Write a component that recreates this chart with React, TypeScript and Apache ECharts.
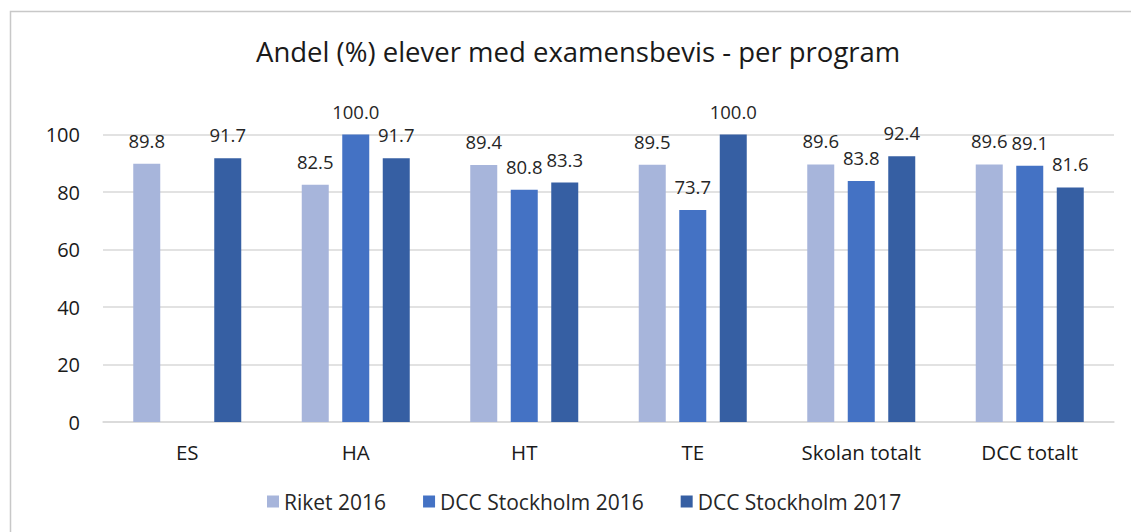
import React, { useEffect, useRef } from "react";
import * as echarts from "echarts";

const categories = ["ES", "HA", "HT", "TE", "Skolan totalt", "DCC totalt"];
const riket2016 = [89.8, 82.5, 89.4, 89.5, 89.6, 89.6];
const dcc2016: (number | null)[] = [null, 100.0, 80.8, 73.7, 83.8, 89.1];
const dcc2017 = [91.7, 91.7, 83.3, 100.0, 92.4, 81.6];
const seriesNames = ["Riket 2016", "DCC Stockholm 2016", "DCC Stockholm 2017"];
const colors = ["#A7B5DB", "#4472C4", "#365FA3"];
const yTicks = { min: 0, max: 100, interval: 20 };
const titleText = "Andel (%) elever med examensbevis - per program";

const FONT = "'Open Sans', sans-serif";

export default function App() {
  const ref = useRef<HTMLDivElement>(null);
  useEffect(() => {
    if (!ref.current) return;
    const chart = echarts.init(ref.current, undefined, { renderer: "svg" });
    const mk = (name: string, data: (number | null)[], color: string) => ({
      name,
      type: "bar",
      data,
      barWidth: 27,
      barGap: "50%",
      itemStyle: { color },
      label: {
        show: true,
        position: "top",
        distance: 14,
        fontFamily: FONT,
        fontSize: 18.5,
        color: "#262626",
        formatter: (p: any) => (p.value == null ? "" : Number(p.value).toFixed(1)),
      },
    });
    chart.setOption({
      animation: false,
      backgroundColor: "#ffffff",
      textStyle: { fontFamily: FONT },
      title: {
        text: titleText,
        left: 251,
        top: 32,
        textStyle: { fontFamily: FONT, fontSize: 27.5, fontWeight: "normal", color: "#1a1a1a" },
      },
      graphic: [
        {
          type: "rect",
          shape: { x: 10.5, y: 11.5, width: 1140, height: 540 },
          style: { fill: "none", stroke: "#c8c8c8", lineWidth: 1.5 },
          silent: true,
        },
      ],
      legend: {
        bottom: 15,
        left: 262,
        itemWidth: 12,
        itemHeight: 12,
        itemGap: 37,
        icon: "rect",
        textStyle: { fontFamily: FONT, fontSize: 21, color: "#262626" },
        data: seriesNames,
      },
      grid: { left: 103, right: 17, top: 134.5, bottom: 110, containLabel: false },
      xAxis: {
        type: "category",
        data: categories,
        axisLine: { lineStyle: { color: "#d9d9d9", width: 1.5 } },
        axisTick: { show: false },
        axisLabel: { fontFamily: FONT, fontSize: 20.5, color: "#1a1a1a", margin: 19 },
      },
      yAxis: {
        type: "value",
        min: yTicks.min,
        max: yTicks.max,
        interval: yTicks.interval,
        axisLine: { show: false },
        axisTick: { show: false },
        splitLine: { lineStyle: { color: "#d9d9d9", width: 1.5 } },
        axisLabel: { fontFamily: FONT, fontSize: 20, color: "#1a1a1a", margin: 23 },
      },
      series: [
        mk(seriesNames[0], riket2016, colors[0]),
        mk(seriesNames[1], dcc2016, colors[1]),
        mk(seriesNames[2], dcc2017, colors[2]),
      ],
    });
    return () => chart.dispose();
  }, []);
  return (
    <div
      ref={ref}
      style={{ position: "absolute", left: 0, top: 0, width: 1131, height: 532 }}
    />
  );
}
